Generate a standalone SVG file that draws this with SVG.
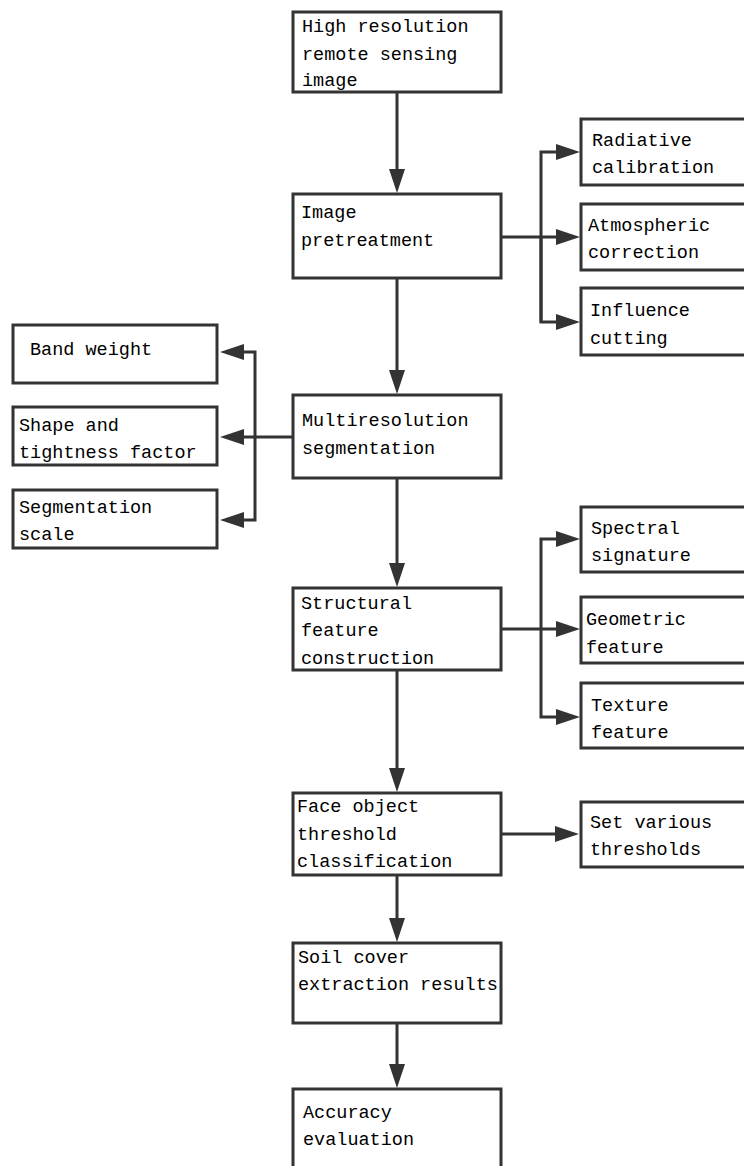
<svg xmlns="http://www.w3.org/2000/svg" width="744" height="1166" viewBox="0 0 744 1166">
<style>
.box{fill:#fff;stroke:#333;stroke-width:3}
.ln{fill:none;stroke:#333;stroke-width:3}
.ar{marker-end:url(#ah)}
text{font-family:"Liberation Mono","DejaVu Sans Mono",monospace;font-size:18.5px;fill:#000}
</style>
<defs>
<marker id="ah" markerUnits="userSpaceOnUse" markerWidth="24" markerHeight="16" refX="12" refY="8" orient="auto" overflow="visible">
<path d="M0,0 L24,8 L0,16 z" fill="#333"/>
</marker>
</defs>
<rect width="744" height="1166" fill="#fff"/>
<g id="connectors">
<line class="ln ar" x1="397" y1="92" x2="397" y2="181"/>
<line class="ln ar" x1="397" y1="278" x2="397" y2="382"/>
<line class="ln ar" x1="397" y1="478" x2="397" y2="575"/>
<line class="ln ar" x1="397" y1="670" x2="397" y2="780"/>
<line class="ln ar" x1="397" y1="875" x2="397" y2="930"/>
<line class="ln ar" x1="397" y1="1023" x2="397" y2="1076"/>
<line class="ln ar" x1="501" y1="237" x2="568" y2="237"/>
<polyline class="ln ar" points="541,322 541,152 568,152"/>
<polyline class="ln ar" points="541,237 541,322 568,322"/>
<line class="ln ar" x1="293" y1="437" x2="232" y2="437"/>
<polyline class="ln ar" points="255,437 255,352 232,352"/>
<polyline class="ln ar" points="255,437 255,520 232,520"/>
<line class="ln ar" x1="501" y1="629" x2="568" y2="629"/>
<polyline class="ln ar" points="541,629 541,539 568,539"/>
<polyline class="ln ar" points="541,629 541,717 568,717"/>
<line class="ln ar" x1="501" y1="834" x2="567" y2="834"/>
</g>
<g id="n1"><rect class="box" x="293" y="12" width="208" height="80"/><text x="302" y="32">High resolution</text><text x="302" y="60">remote sensing</text><text x="302" y="86">image</text></g>
<g id="n2"><rect class="box" x="293" y="194" width="208" height="84"/><text x="301" y="218">Image</text><text x="301" y="246">pretreatment</text></g>
<g id="n3"><rect class="box" x="581" y="119" width="180" height="66"/><text x="592" y="146">Radiative</text><text x="592" y="173">calibration</text></g>
<g id="n4"><rect class="box" x="581" y="204" width="180" height="66"/><text x="588" y="231">Atmospheric</text><text x="588" y="258">correction</text></g>
<g id="n5"><rect class="box" x="581" y="288" width="180" height="67"/><text x="590" y="316">Influence</text><text x="590" y="344">cutting</text></g>
<g id="n6"><rect class="box" x="293" y="395" width="208" height="83"/><text x="302" y="426">Multiresolution</text><text x="302" y="454">segmentation</text></g>
<g id="n7"><rect class="box" x="13" y="325" width="204" height="58"/><text x="30" y="355">Band weight</text></g>
<g id="n8"><rect class="box" x="13" y="407" width="204" height="58"/><text x="19" y="431">Shape and</text><text x="19" y="458">tightness factor</text></g>
<g id="n9"><rect class="box" x="13" y="490" width="204" height="58"/><text x="19" y="513">Segmentation</text><text x="19" y="540">scale</text></g>
<g id="n10"><rect class="box" x="293" y="588" width="208" height="82"/><text x="301" y="609">Structural</text><text x="301" y="636">feature</text><text x="301" y="664">construction</text></g>
<g id="n11"><rect class="box" x="581" y="507" width="180" height="65"/><text x="591" y="534">Spectral</text><text x="591" y="561">signature</text></g>
<g id="n12"><rect class="box" x="581" y="597" width="180" height="66"/><text x="586" y="625">Geometric</text><text x="586" y="653">feature</text></g>
<g id="n13"><rect class="box" x="581" y="683" width="180" height="65"/><text x="591" y="711">Texture</text><text x="591" y="738">feature</text></g>
<g id="n14"><rect class="box" x="293" y="793" width="208" height="82"/><text x="297" y="812">Face object</text><text x="297" y="840">threshold</text><text x="297" y="867">classification</text></g>
<g id="n15"><rect class="box" x="581" y="802" width="180" height="65"/><text x="590" y="828">Set various</text><text x="590" y="855">thresholds</text></g>
<g id="n16"><rect class="box" x="293" y="943" width="208" height="80"/><text x="298" y="963">Soil cover</text><text x="298" y="990">extraction results</text></g>
<g id="n17"><rect class="box" x="293" y="1089" width="208" height="100"/><text x="303" y="1118">Accuracy</text><text x="303" y="1145">evaluation</text></g>
</svg>
